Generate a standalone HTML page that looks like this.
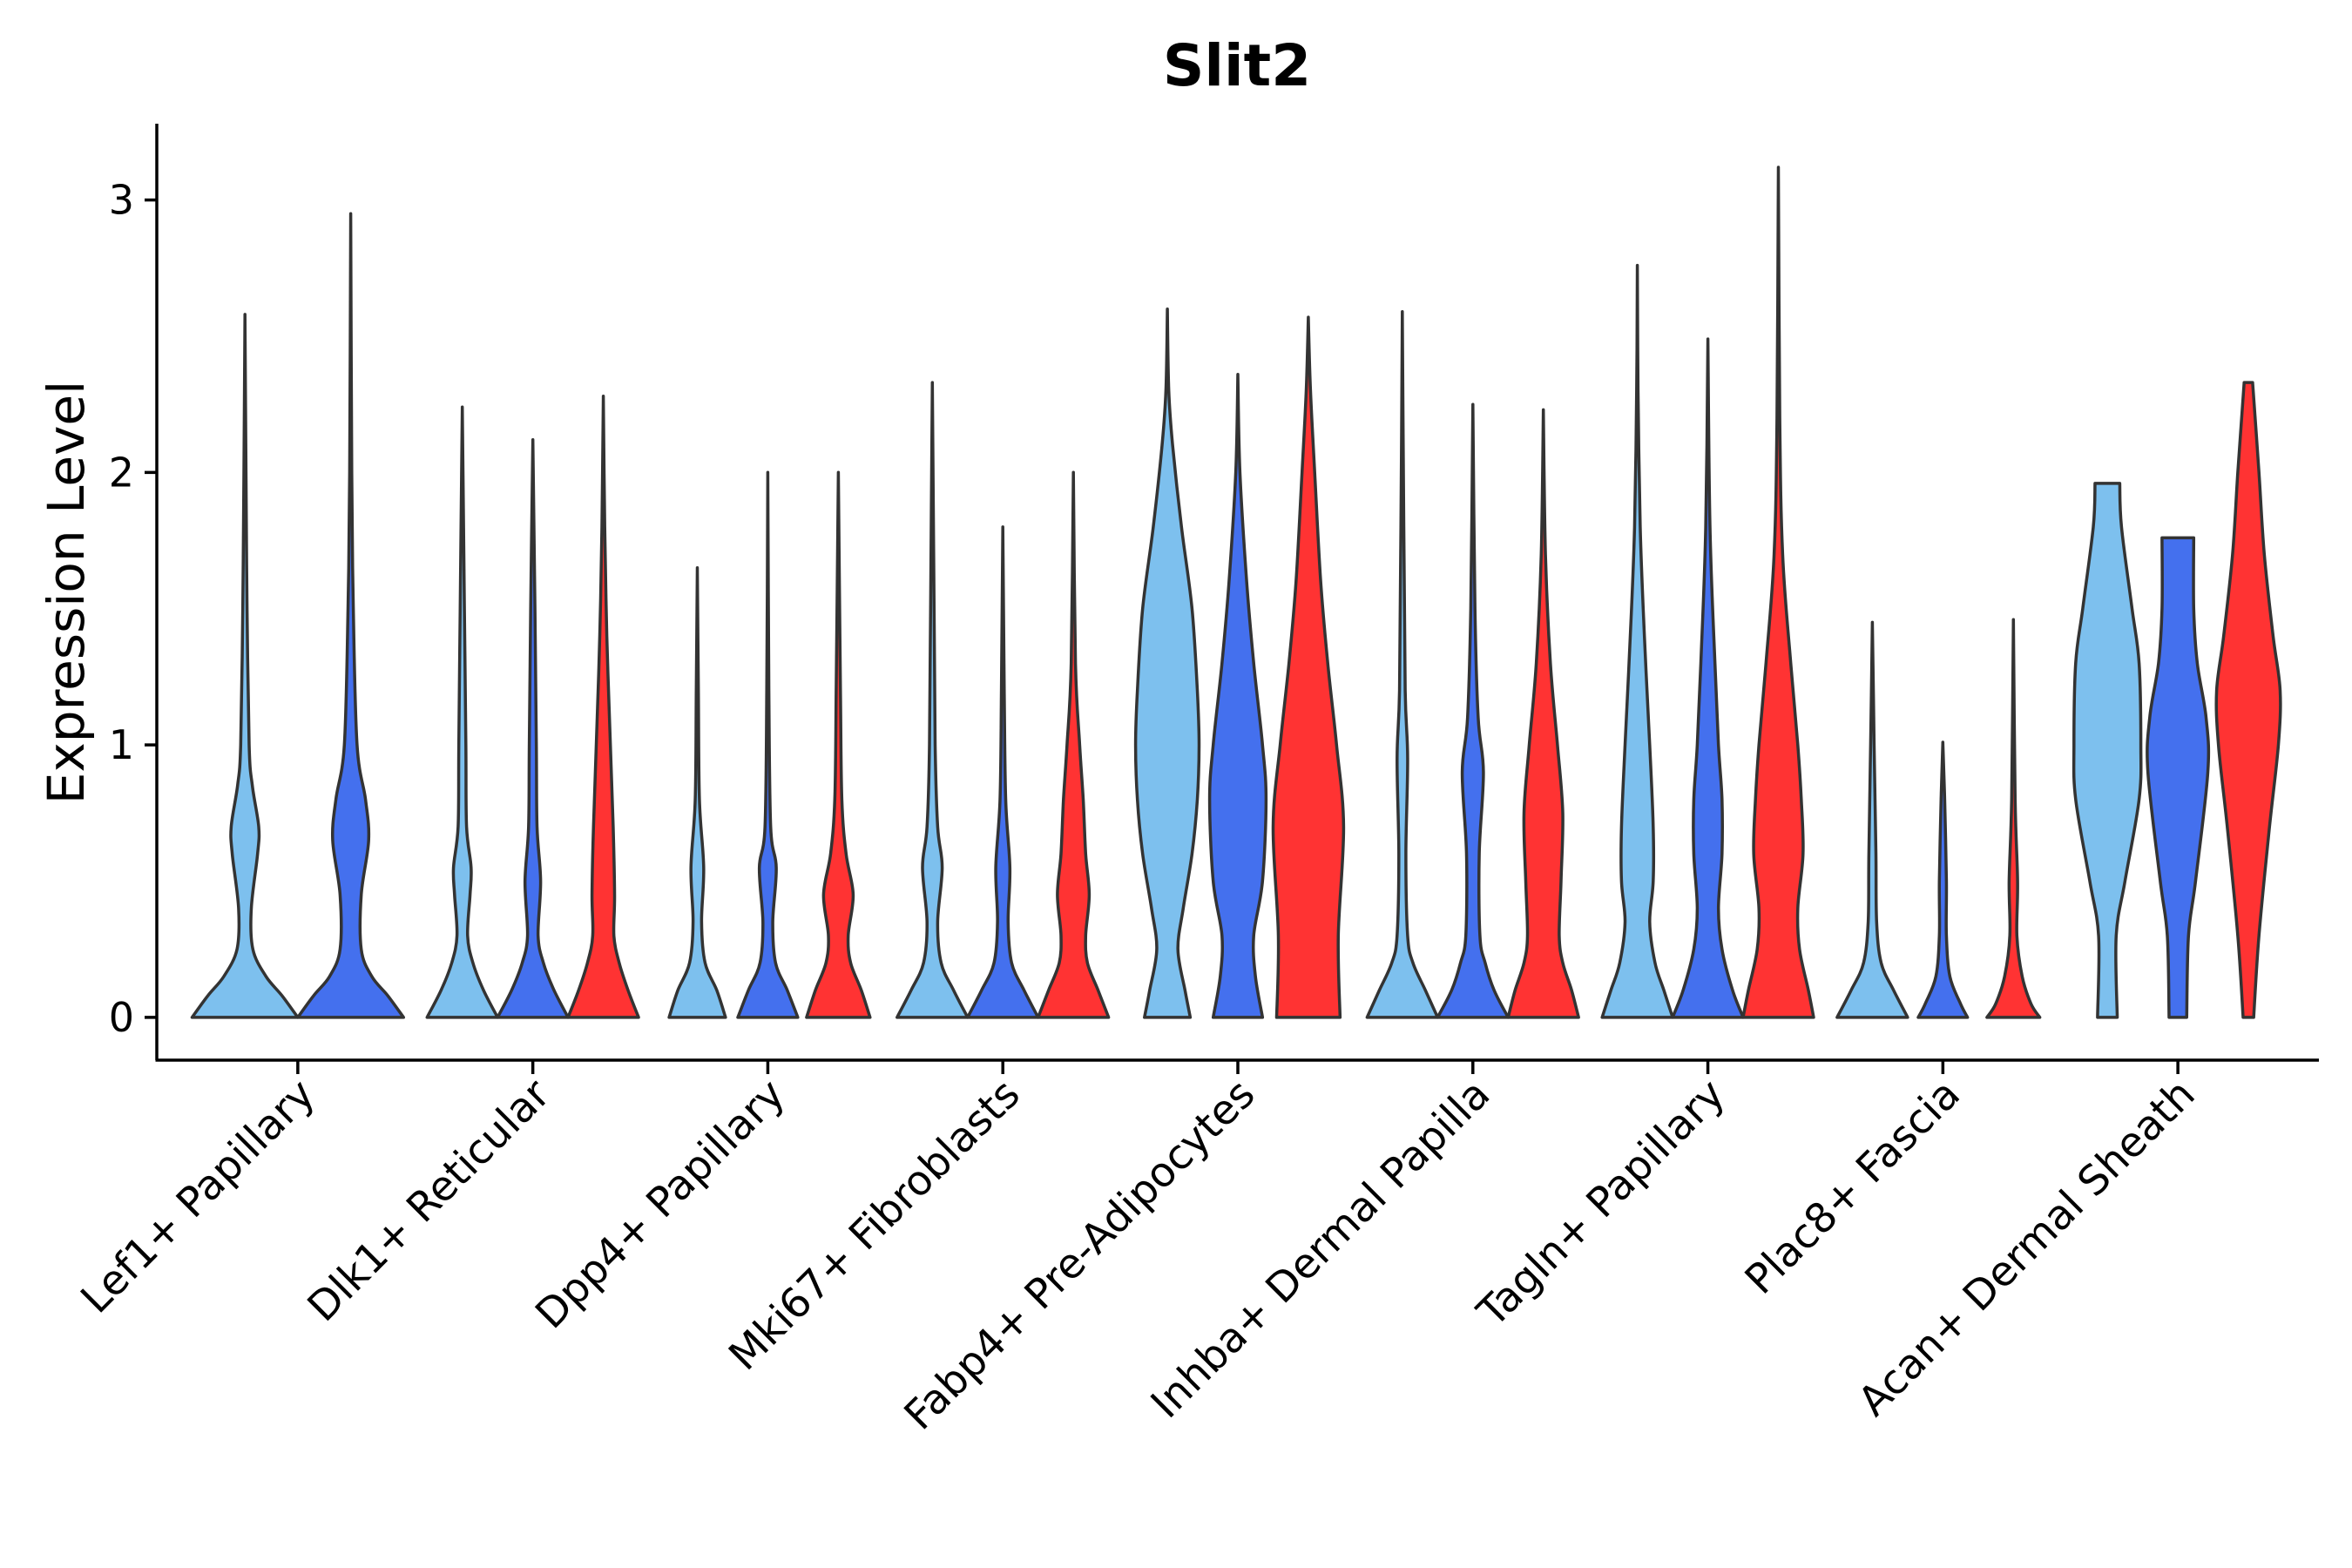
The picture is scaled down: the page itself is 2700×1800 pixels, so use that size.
<!DOCTYPE html>
<html><head><meta charset="utf-8"><style>
html,body{margin:0;padding:0;background:#fff;}
svg{display:block;font-family:"DejaVu Sans","Liberation Sans",sans-serif;}
</style></head><body>
<svg id="chart" width="2700" height="1800" viewBox="0 0 2700 1800" xmlns="http://www.w3.org/2000/svg">
<text x="1420" y="98" text-anchor="middle" font-size="66" font-weight="bold">Slit2</text>
<text transform="translate(96,680) rotate(-90)" text-anchor="middle" font-size="58">Expression Level</text>
<g id="plot"></g>
</svg>
<script>
const categories=["Lef1+ Papillary","Dlk1+ Reticular","Dpp4+ Papillary","Mki67+ Fibroblasts","Fabp4+ Pre-Adipocytes","Inhba+ Dermal Papilla","Tagln+ Papillary","Plac8+ Fascia","Acan+ Dermal Sheath"];
const seriesColors=["#7DC0EE","#4470EE","#FF3333"];
const yTicks=[0,1,2,3];
// density profiles: [expression value, relative half-width]
const lef1=[
 [[0,1],[0.08,0.7],[0.15,0.4],[0.25,0.15],[0.4,0.12],[0.6,0.24],[0.7,0.26],[0.85,0.14],[1.0,0.08],[1.5,0.04],[2,0.02],[2.58,0]],
 [[0,1],[0.08,0.7],[0.15,0.4],[0.25,0.2],[0.45,0.2],[0.65,0.34],[0.8,0.28],[1.0,0.12],[1.5,0.05],[2.0,0.02],[2.95,0]]];
const dlk1=[
 [[0,1],[0.1,0.6],[0.2,0.3],[0.3,0.15],[0.45,0.22],[0.55,0.25],[0.7,0.12],[1.0,0.1],[1.5,0.06],[2.0,0.02],[2.24,0]],
 [[0,1],[0.1,0.6],[0.2,0.3],[0.3,0.15],[0.5,0.22],[0.7,0.12],[1.0,0.1],[1.5,0.06],[2.12,0]],
 [[0,1],[0.1,0.7],[0.2,0.45],[0.3,0.3],[0.45,0.32],[0.7,0.28],[1.0,0.2],[1.4,0.1],[1.8,0.04],[2.28,0]]];
const dpp4=[
 [[0,0.8],[0.1,0.55],[0.2,0.22],[0.35,0.12],[0.55,0.18],[0.8,0.06],[1.2,0.03],[1.65,0]],
 [[0,0.85],[0.1,0.55],[0.2,0.22],[0.35,0.14],[0.55,0.24],[0.7,0.08],[1.2,0.03],[2.0,0]],
 [[0,0.9],[0.1,0.65],[0.2,0.35],[0.3,0.28],[0.45,0.42],[0.6,0.22],[0.8,0.1],[1.2,0.06],[2.0,0]]];
const mki67=[
 [[0,1],[0.1,0.6],[0.2,0.25],[0.35,0.15],[0.55,0.28],[0.7,0.15],[1.0,0.08],[1.5,0.05],[2.33,0]],
 [[0,1],[0.1,0.6],[0.2,0.25],[0.35,0.15],[0.55,0.2],[0.8,0.08],[1.2,0.04],[1.8,0]],
 [[0,1],[0.1,0.7],[0.2,0.4],[0.3,0.35],[0.45,0.45],[0.6,0.35],[0.8,0.28],[1.0,0.18],[1.3,0.06],[2.0,0]]];
const fabp4=[
 [[0,0.65],[0.1,0.5],[0.25,0.3],[0.4,0.45],[0.6,0.7],[0.8,0.85],[1.0,0.9],[1.2,0.85],[1.5,0.7],[1.8,0.4],[2.1,0.15],[2.3,0.04],[2.6,0]],
 [[0,0.7],[0.15,0.5],[0.3,0.45],[0.5,0.7],[0.8,0.8],[1.0,0.7],[1.3,0.45],[1.6,0.25],[2.0,0.06],[2.36,0]],
 [[0,0.9],[0.3,0.85],[0.7,1.0],[1.0,0.8],[1.3,0.55],[1.6,0.35],[2.0,0.18],[2.3,0.06],[2.57,0]]];
const inhba=[
 [[0,1],[0.1,0.65],[0.2,0.3],[0.3,0.15],[0.6,0.1],[0.95,0.15],[1.2,0.08],[1.8,0.04],[2.59,0]],
 [[0,1],[0.1,0.6],[0.2,0.35],[0.3,0.2],[0.6,0.18],[0.9,0.3],[1.1,0.15],[1.5,0.06],[2.25,0]],
 [[0,1],[0.1,0.8],[0.2,0.55],[0.3,0.45],[0.5,0.5],[0.75,0.55],[1.0,0.4],[1.3,0.2],[1.7,0.06],[2.23,0]]];
const tagln=[
 [[0,1],[0.1,0.75],[0.2,0.5],[0.35,0.35],[0.5,0.45],[0.7,0.45],[1.0,0.35],[1.4,0.2],[1.8,0.08],[2.3,0.02],[2.76,0]],
 [[0,1],[0.1,0.7],[0.25,0.4],[0.4,0.3],[0.6,0.4],[0.8,0.4],[1.0,0.3],[1.3,0.2],[1.8,0.06],[2.49,0]],
 [[0,1],[0.1,0.85],[0.25,0.6],[0.4,0.55],[0.6,0.7],[0.8,0.65],[1.0,0.55],[1.3,0.35],[1.7,0.12],[2.2,0.04],[3.12,0]]];
const plac8=[
 [[0,1],[0.1,0.6],[0.2,0.25],[0.35,0.12],[0.6,0.1],[1.0,0.05],[1.45,0]],
 [[0,0.7],[0.05,0.5],[0.15,0.2],[0.3,0.1],[0.5,0.1],[0.8,0.05],[1.01,0]],
 [[0,0.75],[0.05,0.5],[0.15,0.25],[0.3,0.1],[0.5,0.12],[0.8,0.05],[1.46,0]]];
const acan=[
 [[0,0.28],[0.3,0.25],[0.5,0.5],[0.8,0.9],[1.0,0.95],[1.3,0.9],[1.5,0.7],[1.8,0.4],[1.96,0.35]],
 [[0,0.25],[0.3,0.3],[0.5,0.5],[0.9,0.85],[1.1,0.8],[1.3,0.55],[1.5,0.45],[1.76,0.45]],
 [[0,0.15],[0.3,0.3],[0.7,0.6],[1.0,0.85],[1.2,0.9],[1.4,0.7],[1.7,0.45],[2.0,0.3],[2.33,0.12]]];
const groups=[lef1,dlk1,dpp4,mki67,fabp4,inhba,tagln,plac8,acan];

const NS="http://www.w3.org/2000/svg";
const L=180,R=2662,T=142,B=1217;
const yMin=-0.157,yMax=3.28;
const y=v=>B-(v-yMin)/(yMax-yMin)*(B-T);
const spacing=(R-L)/(categories.length+0.2);
const xc=i=>L+spacing*(i+0.6);
const g=document.getElementById('plot');
function mk(tag,attrs){const e=document.createElementNS(NS,tag);for(const k in attrs)e.setAttribute(k,attrs[k]);g.appendChild(e);return e;}
function smooth(pts){let d="M"+pts[0][0]+","+pts[0][1];for(let i=0;i<pts.length-1;i++){const p0=pts[Math.max(0,i-1)],p1=pts[i],p2=pts[i+1],p3=pts[Math.min(pts.length-1,i+2)];const c1=[p1[0]+(p2[0]-p0[0])/6,p1[1]+(p2[1]-p0[1])/6],c2=[p2[0]-(p3[0]-p1[0])/6,p2[1]-(p3[1]-p1[1])/6];d+=" C"+c1[0].toFixed(1)+","+c1[1].toFixed(1)+" "+c2[0].toFixed(1)+","+c2[1].toFixed(1)+" "+p2[0].toFixed(1)+","+p2[1].toFixed(1);}return d;}
groups.forEach((grp,i)=>{
 const n=grp.length, slot=0.9*spacing/n, hw=slot/2;
 grp.forEach((prof,j)=>{
  const cx=xc(i)+(j-(n-1)/2)*slot;
  const right=prof.map(p=>[cx+p[1]*hw,y(p[0])]);
  const left=prof.slice().reverse().map(p=>[cx-p[1]*hw,y(p[0])]);
  let d=smooth(right);
  const ltop=left[0];
  d+=" L"+ltop[0].toFixed(1)+","+ltop[1].toFixed(1);
  d+=smooth(left).replace(/^M[^C]*/," ");
  d+=" Z";
  const p=mk('path',{d:d,fill:seriesColors[j],stroke:"#333",'stroke-width':3.5,'stroke-linejoin':'round'});
  
  
 });
});
const ax=mk('line',{x1:L,y1:T,x2:L,y2:B,stroke:"#000",'stroke-width':3.5});


const bx=mk('line',{x1:L-1.5,y1:B,x2:R,y2:B,stroke:"#000",'stroke-width':3.5});


yTicks.forEach(t=>{
 const tk=mk('line',{x1:L-14,x2:L,y1:y(t),y2:y(t),stroke:"#000",'stroke-width':3.5});
 
 
 const tx=mk('text',{x:L-26,y:y(t)+16,'text-anchor':'end','font-size':46});
 tx.textContent=t;
 
 
});
categories.forEach((c,i)=>{
 const x=xc(i);
 const tk=mk('line',{x1:x,x2:x,y1:B,y2:B+16,stroke:"#000",'stroke-width':3.5});
 
 
 const tx=mk('text',{transform:`translate(${x+22},${B+42}) rotate(-45)`,'text-anchor':'end','font-size':47});
 tx.textContent=c;
 
 
});
</script>
</body></html>
